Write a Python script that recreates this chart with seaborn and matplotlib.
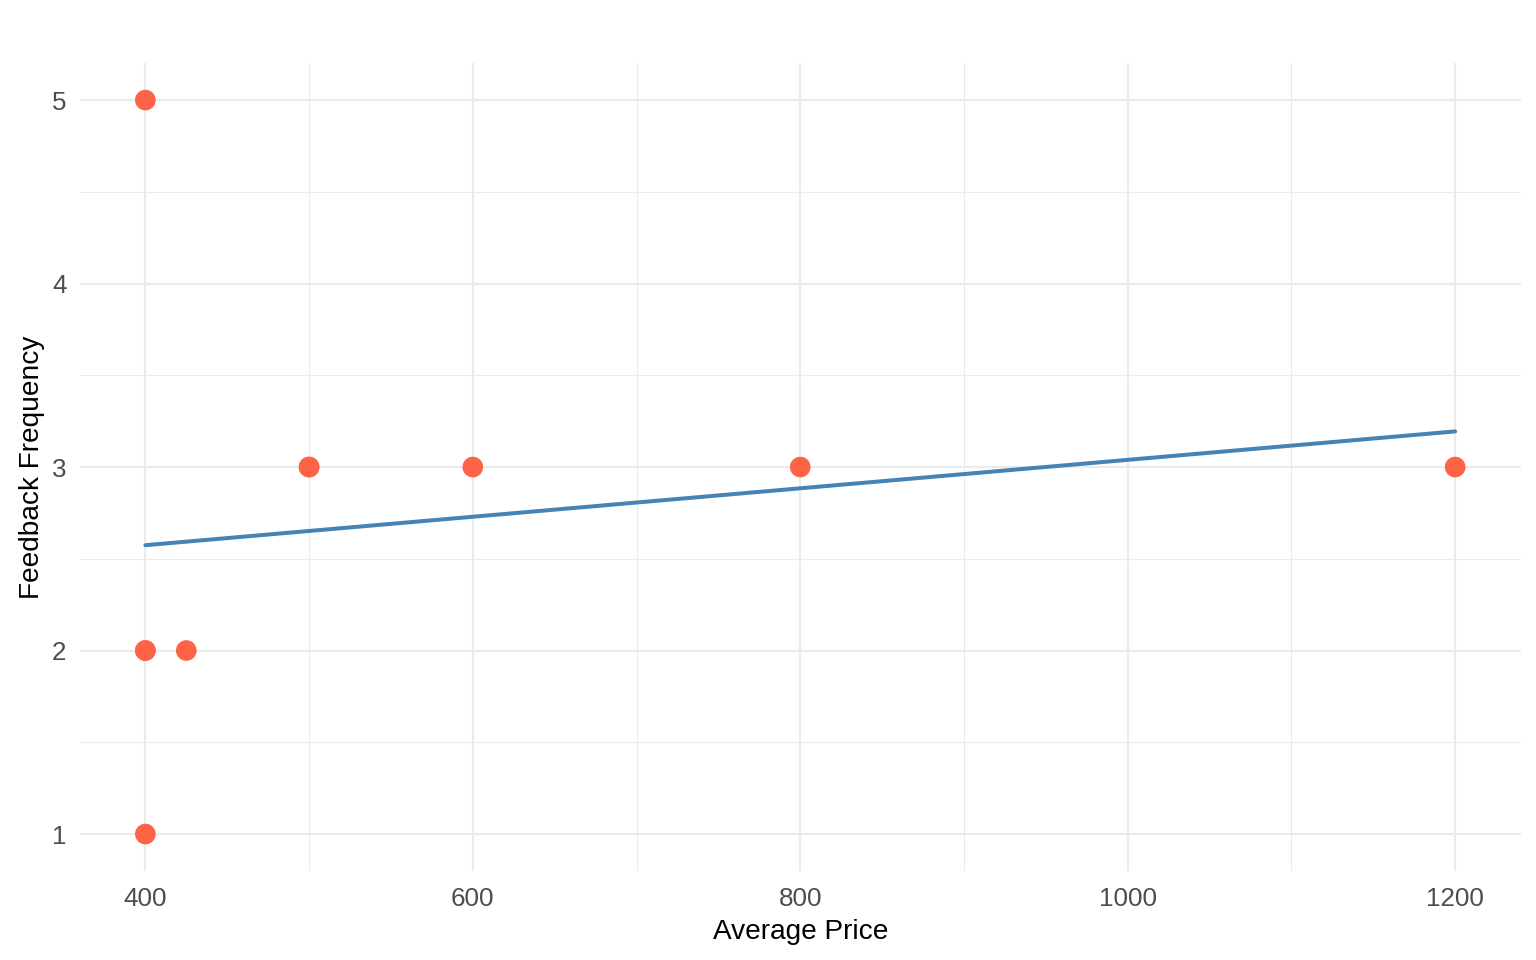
import numpy as np
import pandas as pd
import matplotlib
matplotlib.use("Agg")
import matplotlib.pyplot as plt
import seaborn as sns

# data (duplicates hidden under visible points)
avg_price = [400, 400, 400, 400, 425, 500, 500, 600, 800, 1200]
feedback_freq = [5, 2, 2, 1, 2, 3, 3, 3, 3, 3]
x_ticks = [400, 600, 800, 1000, 1200]
x_minor = [500, 700, 900, 1100]
y_ticks = [1, 2, 3, 4, 5]
y_minor = [1.5, 2.5, 3.5, 4.5]

df = pd.DataFrame({"Average Price": avg_price, "Feedback Frequency": feedback_freq})

sns.set_theme(style="white")
plt.rcParams["font.family"] = ["Liberation Sans", "DejaVu Sans"]

fig = plt.figure(figsize=(16, 10), dpi=96)
ax = fig.add_axes([0.052, 0.093, 0.938, 0.841])

sns.scatterplot(data=df, x="Average Price", y="Feedback Frequency", color="#FF6347",
                s=240, edgecolor="none", ax=ax, zorder=3)
sns.regplot(data=df, x="Average Price", y="Feedback Frequency", ci=None, scatter=False,
            color="#4682B4", line_kws={"linewidth": 3.0, "zorder": 4}, truncate=True, ax=ax)

ax.set_xlim(360, 1240)
ax.set_ylim(0.8, 5.2)
ax.set_xticks(x_ticks)
ax.set_xticks(x_minor, minor=True)
ax.set_yticks(y_ticks)
ax.set_yticks(y_minor, minor=True)
ax.grid(which="major", color="#EBEBEB", linewidth=1.6)
ax.grid(which="minor", color="#EBEBEB", linewidth=0.8)
ax.set_axisbelow(True)
for sp in ax.spines.values():
    sp.set_visible(False)
ax.tick_params(which="both", length=0, labelsize=19.5, labelcolor="#4D4D4D")
ax.tick_params(axis="x", pad=12)
ax.tick_params(axis="y", pad=10)
ax.set_xlabel("Average Price", fontsize=21, color="black", labelpad=6)
ax.set_ylabel("Feedback Frequency", fontsize=21, color="black", labelpad=5)

fig.savefig("out.png", dpi=96, facecolor="white")
